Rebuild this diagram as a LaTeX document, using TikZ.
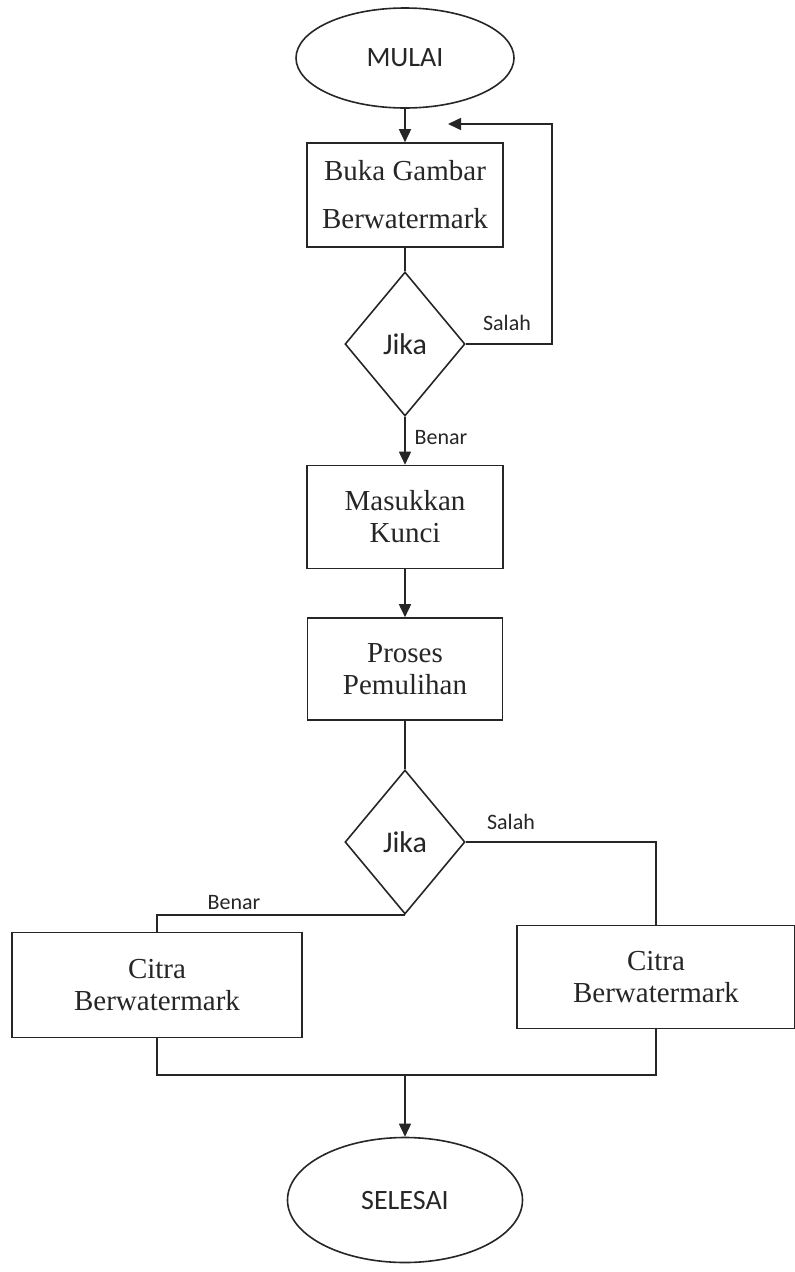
\documentclass[tikz,border=0pt]{standalone}
\usepackage{fontspec}
\setmainfont{Liberation Serif}
\newfontfamily\calibri{Carlito}
\usetikzlibrary{shapes.geometric,arrows.meta}

\begin{document}
\begin{tikzpicture}[x=1pt,y=-1pt,line width=1.6pt,color=black!85,
    kotak/.style={draw,rectangle,align=center,inner sep=0pt,font=\fontsize{29}{32}\selectfont},
    oval/.style={draw,ellipse,inner sep=0pt,font=\calibri\fontsize{28}{30}\selectfont},
    belah/.style={draw,diamond,inner sep=0pt,minimum width=120pt,minimum height=144pt,font=\calibri\fontsize{30}{32}\selectfont},
    ket/.style={inner sep=0pt,font=\calibri\fontsize{22}{24}\selectfont},
    panah/.style={-{Triangle[length=13pt,width=12pt]}}]
        \useasboundingbox (0,0) rectangle (795,1272);

        %%%%%%%% Mulai %%%%%%%%%
        \node[oval,minimum width=218pt,minimum height=100pt] (mulai) at (405,58) {MULAI};
        \node[kotak,minimum width=196pt,minimum height=104pt,font=\fontsize{29}{48}\selectfont] (buka) at (405,195) {Buka Gambar\\Berwatermark};
        \node[belah] (cek1) at (405,344) {Jika};

        %%%%%%%% Kunci dan proses %%%%%%%%%
        \node[kotak,minimum width=196pt,minimum height=103pt] (kunci) at (405,517) {Masukkan\\Kunci};
        \node[kotak,minimum width=195pt,minimum height=102pt] (proses) at (405,669) {Proses\\Pemulihan};
        \node[belah] (cek2) at (405,842) {Jika};

        %%%%%%%% Hasil %%%%%%%%%
        \node[kotak,minimum width=290pt,minimum height=105pt] (citraA) at (157,985) {Citra\\Berwatermark};
        \node[kotak,minimum width=278pt,minimum height=103pt] (citraB) at (656,977) {Citra\\Berwatermark};
        \node[oval,minimum width=235pt,minimum height=125pt] (selesai) at (405,1200) {SELESAI};

        %%%%%%%% Label %%%%%%%%%
        \node[ket] (salah1) at (507,323) {Salah};
        \node[ket] (benar1) at (441,438) {Benar};
        \node[ket] (salah2) at (511,822) {Salah};
        \node[ket] (benar2) at (234,903) {Benar};

        %%%%%%%% Garis %%%%%%%%
        \coordinate (pojok) at (552,124);
        \coordinate (balik) at (448,124);
        \coordinate (gabung) at (405,1075);
        \draw[panah] (mulai) -- (buka);
        \draw (buka) -- (cek1);
        \draw[panah] (cek1.east) -| (pojok) -- (balik);
        \draw[panah] (cek1) -- (kunci);
        \draw[panah] (kunci) -- (proses);
        \draw (proses) -- (cek2);
        \draw (cek2.east) -| (citraB.north);
        \draw (cek2.south) -| (citraA.north);
        \draw (citraA.south) |- (gabung) -| (citraB.south);
        \draw[panah] (gabung) -- (selesai);
    \end{tikzpicture}
\end{document}
